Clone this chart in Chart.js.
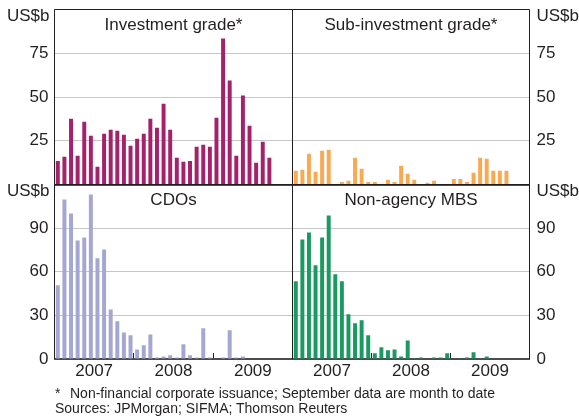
<!DOCTYPE html>
<html>
<head>
<meta charset="utf-8">
<script src="https://cdn.jsdelivr.net/npm/chart.js@4.4.0/dist/chart.umd.min.js"></script>
<style>
  body { margin: 0; background: #fff; }
  #wrap { position: relative; width: 579px; height: 417px; overflow: hidden;
          font-family: "Liberation Sans", Arial, sans-serif; color: #231f20; }
  #wrap canvas { position: absolute; left: 0; top: 0; }
  .note { position: absolute; left: 55px; font-size: 14px; line-height: 16px; white-space: nowrap; }
</style>
</head>
<body>
<div id="wrap">
  <canvas id="ig" width="579" height="417"></canvas>
  <canvas id="sub" width="579" height="417"></canvas>
  <canvas id="cdo" width="579" height="417"></canvas>
  <canvas id="mbs" width="579" height="417"></canvas>
  <div class="note" style="top:385px"><span style="display:inline-block;width:15px">*</span>Non-financial corporate issuance; September data are month to date</div>
  <div class="note" style="top:400px">Sources: JPMorgan; SIFMA; Thomson Reuters</div>
</div>
<script>
// monthly issuance, Jan 2007 - Sep 2009 (US$b)
const months = [
  'Jan-07', 'Feb-07', 'Mar-07', 'Apr-07', 'May-07', 'Jun-07', 'Jul-07', 'Aug-07', 'Sep-07', 'Oct-07', 'Nov-07', 'Dec-07',
  'Jan-08', 'Feb-08', 'Mar-08', 'Apr-08', 'May-08', 'Jun-08', 'Jul-08', 'Aug-08', 'Sep-08', 'Oct-08', 'Nov-08', 'Dec-08',
  'Jan-09', 'Feb-09', 'Mar-09', 'Apr-09', 'May-09', 'Jun-09', 'Jul-09', 'Aug-09', 'Sep-09'
];
const yearLabels = ['2007', '2008', '2009'];

const igValues = [13.5, 15.8, 37.6, 16.4, 35.9, 27.9, 10.1, 29.0, 31.3, 30.7, 28.4, 22.1,
                  26.1, 29.0, 37.6, 32.4, 46.2, 31.3, 15.3, 13.0, 13.5, 21.6, 22.7, 21.6,
                  38.2, 83.4, 59.4, 16.4, 50.8, 33.6, 12.4, 24.4, 15.3];
const subValues = [7.8, 8.4, 17.6, 7.3, 19.3, 19.8, 0.2, 1.5, 2.1, 15.3, 9.0, 1.5,
                   1.5, 0.2, 2.7, 1.5, 10.7, 6.1, 2.7, 0.2, 1.0, 2.1, 0, 0.2,
                   3.2, 3.2, 1.5, 6.7, 15.3, 14.7, 7.8, 7.8, 7.8];
const cdoValues = [50.8, 109.7, 100.1, 81.5, 83.6, 113.1, 69.2, 75.3, 34.1, 25.9, 18.3, 16.3,
                   6.6, 9.4, 16.9, 1.1, 1.8, 2.5, 1.1, 10.1, 2.5, 1.1, 21.1, 1.1,
                   0, 1.1, 19.7, 1.1, 1.8, 0, 0, 0, 0];
const mbsValues = [53.4, 82.2, 87.0, 64.4, 83.6, 98.7, 58.2, 53.4, 30.7, 24.5, 26.6, 16.3,
                   3.9, 8.0, 6.0, 6.6, 1.8, 12.8, 0.5, 1.1, 0, 1.1, 1.1, 3.9,
                   0, 0.5, 1.1, 4.6, 0.5, 1.8, 0, 0, 0];

const topTickLabels = [25, 50, 75];
const bottomTickLabels = [0, 30, 60, 90];

const FONT = '"Liberation Sans", Arial, sans-serif';
const INK = '#231f20';

// frame, panel title and unit label drawn inside each panel
const panelDecor = {
  id: 'panelDecor',
  afterDraw(chart, args, o) {
    const {ctx, chartArea: a} = chart;
    ctx.save();
    ctx.strokeStyle = INK;
    ctx.lineWidth = 1;
    ctx.beginPath();
    ctx.moveTo(a.left, a.bottom);
    ctx.lineTo(a.left, a.top);
    ctx.lineTo(a.right, a.top);
    ctx.lineTo(a.right, a.bottom);
    ctx.stroke();

    ctx.fillStyle = INK;
    ctx.font = '17px ' + FONT;
    ctx.textBaseline = 'alphabetic';
    ctx.textAlign = 'center';
    ctx.fillText(o.title, (a.left + a.right) / 2, a.top + 20);

    ctx.textAlign = o.side === 'left' ? 'right' : 'left';
    ctx.fillText('US$b', o.side === 'left' ? a.left - 5 : a.right + 7, a.top + 11.5);
    ctx.restore();
  }
};

function makePanel(id, cfg) {
  const bottomRow = cfg.row === 'bottom';
  const left = cfg.side === 'left';
  const canvas = document.getElementById(id);
  // chart.js keeps ~16px above the top panels, so those canvases start 10px higher
  if (!bottomRow) canvas.style.top = '-10px';
  new Chart(canvas, {
    type: 'bar',
    data: {
      labels: months,
      datasets: [{
        data: cfg.values.map((v, i) => ({x: i + 0.5, y: v})),
        backgroundColor: cfg.color,
        barPercentage: 0.6,
        categoryPercentage: 1
      }]
    },
    options: {
      responsive: false,
      animation: false,
      layout: {
        autoPadding: false,
        padding: {
          left: left ? 0 : 292.5,
          right: left ? 286.5 : 0,
          top: bottomRow ? 184.5 : 19.5,
          bottom: bottomRow ? 28 : 222.5
        }
      },
      plugins: {
        legend: {display: false},
        tooltip: {enabled: false},
        panelDecor: {title: cfg.title, side: cfg.side}
      },
      scales: {
        x: {
          type: 'linear',
          min: 0,
          max: 36,
          offset: false,
          afterBuildTicks: s => { s.ticks = [6, 12, 18, 24, 30].map(v => ({value: v})); },
          afterFit: s => { s.height = bottomRow ? 30 : 0; },
          grid: {
            display: true,
            offset: false,
            drawOnChartArea: false,
            drawTicks: bottomRow,
            tickLength: -6,
            tickWidth: 1,
            tickColor: c => (c.tick && c.tick.value % 12 === 0) ? INK : 'rgba(0,0,0,0)'
          },
          border: {display: true, color: '#4d4d4f', width: 2},
          ticks: {
            display: bottomRow,
            padding: 8.5,
            maxRotation: 0,
            autoSkip: false,
            color: INK,
            font: {size: 17, family: FONT},
            callback: v => (v - 6) % 12 === 0 ? yearLabels[(v - 6) / 12] : ''
          }
        },
        y: {
          position: cfg.side,
          min: 0,
          max: cfg.max,
          afterFit: s => { s.width = left ? 54.5 : 49.5; },
          grid: {
            drawTicks: false,
            lineWidth: 1,
            color: c => (c.tick && c.tick.value > 0 && c.tick.value < cfg.max) ? '#c6c7c9' : 'rgba(0,0,0,0)'
          },
          border: {display: false},
          ticks: {
            stepSize: cfg.step,
            padding: left ? 6 : 7,
            color: INK,
            font: {size: 17, family: FONT},
            callback: v => cfg.labels.includes(v) ? String(v) : ''
          }
        }
      }
    },
    plugins: [panelDecor]
  });
}

makePanel('ig', {values: igValues, color: '#a6216c', title: 'Investment grade*', side: 'left', row: 'top', max: 100, step: 25, labels: topTickLabels});
makePanel('sub', {values: subValues, color: '#f9a94f', title: 'Sub-investment grade*', side: 'right', row: 'top', max: 100, step: 25, labels: topTickLabels});
makePanel('cdo', {values: cdoValues, color: '#a4a7d2', title: 'CDOs', side: 'left', row: 'bottom', max: 120, step: 30, labels: bottomTickLabels});
makePanel('mbs', {values: mbsValues, color: '#189a60', title: 'Non-agency MBS', side: 'right', row: 'bottom', max: 120, step: 30, labels: bottomTickLabels});
</script>
</body>
</html>
